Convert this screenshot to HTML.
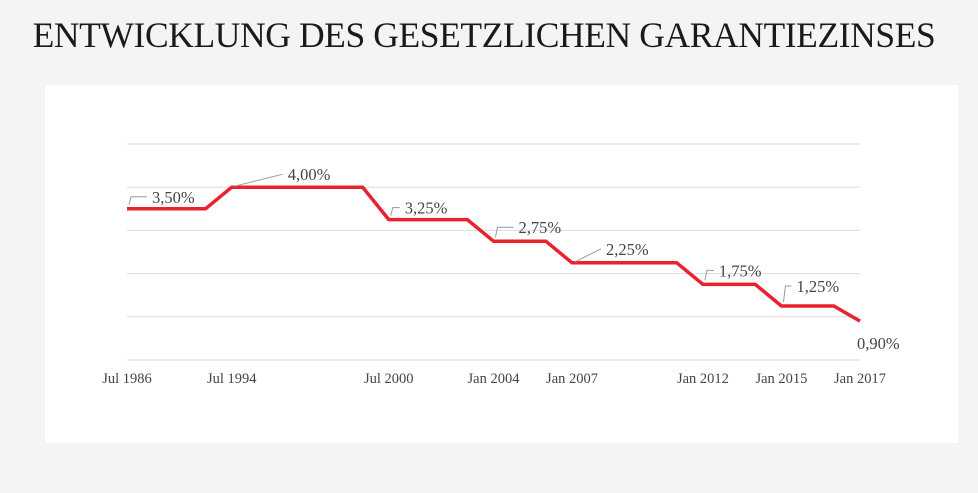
<!DOCTYPE html>
<html><head><meta charset="utf-8"><style>
html,body{margin:0;padding:0;background:#f3f4f6;}
body{width:978px;height:493px;overflow:hidden;position:relative;font-family:"Liberation Serif",serif;}
#title{position:absolute;left:0;width:968px;top:14px;text-align:center;font-size:35.5px;color:#1a1a1a;letter-spacing:-0.4px;white-space:nowrap;}
#card{position:absolute;left:45px;top:85px;width:913px;height:358px;background:#fff;}
svg{position:absolute;left:0;top:0;}
</style></head><body>
<div id="title">ENTWICKLUNG DES GESETZLICHEN GARANTIEZINSES</div>
<div id="card"></div>
<svg id="chart" width="978" height="493"></svg>
<script>
const tickLabels=["Jul 1986","Jul 1994","Jul 2000","Jan 2004","Jan 2007","Jan 2012","Jan 2015","Jan 2017"];
const tickSlots=[0,4,10,14,17,22,25,28];
const rates=[3.5,4.0,3.25,2.75,2.25,1.75,1.25,0.9];
const rateLabels=["3,50%","4,00%","3,25%","2,75%","2,25%","1,75%","1,25%","0,90%"];
const gridValues=[0,1,2,3,4,5];
const X0=127,X1=860,SMAX=28,Y0=360,PX=43.2;
const xs=s=>X0+(X1-X0)*s/SMAX;
const ys=v=>Y0-v*PX;
const svg=document.getElementById('chart');
const NS='http://www.w3.org/2000/svg';
function mk(t,a){const e=document.createElementNS(NS,t);for(const k in a)e.setAttribute(k,a[k]);svg.appendChild(e);return e;}
gridValues.forEach(v=>{const l=mk('line',{x1:127,x2:860,y1:ys(v),y2:ys(v),stroke:'#dcdcdc','stroke-width':1});

});
tickLabels.forEach((t,i)=>{const e=mk('text',{x:xs(tickSlots[i]),y:383,'text-anchor':'middle','font-size':14.5,fill:'#444','font-family':'Liberation Serif,serif'});e.textContent=t;

});
let pts=[];
rates.forEach((r,i)=>{
  pts.push([xs(tickSlots[i]),ys(r)]);
  if(i<rates.length-1) pts.push([xs(tickSlots[i+1]-1),ys(r)]);
});
const line=mk('polyline',{points:pts.map(p=>p.join(',')).join(' '),fill:'none',stroke:'#e8222e','stroke-width':3.5,'stroke-linejoin':'round'});


const lay=[[25,-12,'b'],[56,-13,'d'],[16,-12,'b'],[25,-14,'b'],[34,-14,'d'],[16,-14,'b'],[15,-20,'b'],[-3,22,'n']];
rates.forEach((r,i)=>{
  const x=xs(tickSlots[i]),y=ys(r),[dx,dy,t]=lay[i];
  if(t==='b'){const p=mk('polyline',{points:`${x+2},${y-4} ${x+4},${y+dy} ${x+dx-5},${y+dy}`,fill:'none',stroke:'#999','stroke-width':1});
    }
  else if(t==='d'){const p=mk('line',{x1:x+3,y1:y-1,x2:x+dx-5,y2:y+dy,stroke:'#999','stroke-width':1});
    }
  const e=mk('text',{x:x+dx,y:y+dy+6,'font-size':16.5,fill:'#444','font-family':'Liberation Serif,serif'});
  e.textContent=rateLabels[i];
  
  
});
</script>
</body></html>
